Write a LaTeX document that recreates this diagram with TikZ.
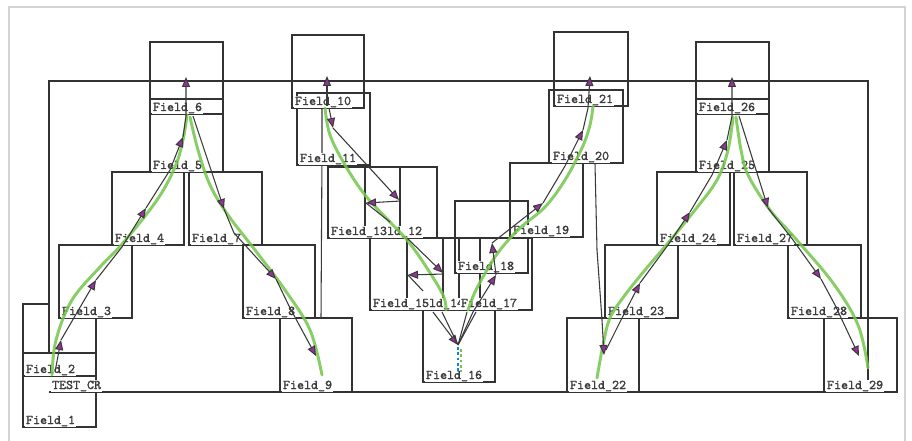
\documentclass[tikz,border=0pt]{standalone}
\usepackage{fontspec}
\newfontfamily\labfont{lmmono10-regular}[Extension=.otf, FakeBold=1.6]
\usetikzlibrary{arrows.meta}
\definecolor{boxc}{HTML}{333333}
\definecolor{conc}{HTML}{3a3a3a}
\definecolor{arrc}{RGB}{150,50,160}
\definecolor{grc}{RGB}{115,198,75}
\definecolor{txtc}{HTML}{3c3c3c}
\definecolor{framec}{HTML}{d4d4d4}
\tikzset{
  fbox/.style={draw=boxc, line width=1pt},
  flab/.style={font=\labfont\fontsize{10}{11}\selectfont, text=txtc, anchor=base west, inner sep=0.6pt, fill=white},
  conn/.style={draw=conc, line width=0.8pt},
  tip/.style={-{Triangle[length=7.5pt,width=6pt,fill=arrc]}},
  gline/.style={draw=grc, line width=2.2pt, line cap=round, opacity=0.85},
}
\begin{document}
\begin{tikzpicture}[x=0.75pt,y=-0.75pt]
\useasboundingbox (0,0) rectangle (912,441);
\fill[white] (0,0) rectangle (912,441);
\draw[framec, line width=0.8pt] (9,441) -- (9,7) -- (905,7) -- (905,441);

% boxes
\foreach \a/\b/\c/\d in {
  150/42/223/114, 150/99/223/172, 112/172/184/245, 189/172/262/245,
  59/245/132/318, 243/245/315/318, 23/353/96/427,
  280/318/352/392,
  292/35/364/108, 297/93/370/165, 328/167/400/238, 365/167/437/238,
  370/238/443/310, 407/238/480/310, 459/238/532/310, 455/201/528/273,
  423/310/495/382, 510/163/583/237, 549/90/623/163, 554/32/628/106,
  696/42/769/114, 696/99/769/172, 657/172/730/245, 734/172/807/245,
  605/245/678/318, 788/245/861/318, 567/318/639/392, 824/318/897/392}
  \draw[fbox] (\a,\b) rectangle (\c,\d);
% TEST_CR frame and Field_2 outline (partly hidden in the reference)
\draw[fbox] (49,353) -- (49,81) -- (868,81) -- (868,392) -- (49,392);
\draw[fbox] (49,304) -- (23,304) -- (23,376) -- (96,376) -- (96,318);
\draw[conn] (322,108) -- (322,150) -- (321,318);

% labels
\node[flab] (f6) at (152,111) {Field\_6};
\node[flab] (f5) at (152,169) {Field\_5};
\node[flab] (f4) at (114,242) {Field\_4};
\node[flab] (f7) at (191,242) {Field\_7};
\node[flab] (f3) at (61,315) {Field\_3};
\node[flab] (f8) at (245,315) {Field\_8};
\node[flab] (f2) at (25,373) {Field\_2};
\node[flab] (f1) at (25,424) {Field\_1};
\node[flab] (tc) at (51,389) {TEST\_CR};
\node[flab] (f9) at (282,389) {Field\_9};
\node[flab] (f10) at (294,105) {Field\_10};
\node[flab] (f11) at (299,162) {Field\_11};
\node[flab] (f12) at (365,235) {Field\_12};
\node[flab] (f13) at (330,235) {Field\_13};
\node[flab] (f14) at (407,307) {Field\_14};
\node[flab] (f15) at (372,307) {Field\_15};
\node[flab] (f17) at (460,307) {Field\_17};
\node[flab] (f18) at (457,270) {Field\_18};
\node[flab] (f16) at (425,379) {Field\_16};
\node[flab] (f19) at (512,234) {Field\_19};
\node[flab] (f20) at (552,160) {Field\_20};
\node[flab] (f21) at (556,103) {Field\_21};
\node[flab] (f26) at (698,111) {Field\_26};
\node[flab] (f25) at (698,169) {Field\_25};
\node[flab] (f24) at (659,242) {Field\_24};
\node[flab] (f27) at (736,242) {Field\_27};
\node[flab] (f23) at (607,315) {Field\_23};
\node[flab] (f28) at (790,315) {Field\_28};
\node[flab] (f22) at (569,389) {Field\_22};
\node[flab] (f29) at (826,389) {Field\_29};

% green curves
\draw[gline] plot[smooth, tension=0.6] coordinates {(52,375) (56,340) (72,300) (100,267) (123,243) (157,200) (175,167) (183,140) (187,115)};
\draw[gline] plot[smooth, tension=0.6] coordinates {(190,117) (198,150) (210,185) (228,215) (255,250) (285,290) (310,330) (322,375)};
\draw[gline] plot[smooth, tension=0.6] coordinates {(325,108) (330,135) (345,165) (365,195) (390,222) (407,240) (425,265) (443,295) (446,310)};
\draw[gline] plot[smooth, tension=0.6] coordinates {(468,310) (475,292) (487,270) (500,250) (520,228) (545,207) (565,180) (582,148) (590,125) (593,106)};
\draw[gline] plot[smooth, tension=0.6] coordinates {(597,378) (603,345) (610,318) (625,295) (645,270) (668,243) (695,210) (717,180) (728,150) (733,117)};
\draw[gline] plot[smooth, tension=0.6] coordinates {(736,117) (741,150) (748,175) (770,210) (795,238) (833,283) (858,325) (868,368)};
\draw[cyan!70!blue, line width=1.6pt, dash pattern=on 2pt off 2pt] (458,347) -- (458,372);
\draw[grc, line width=1.2pt, dash pattern=on 2pt off 2pt] (461,349) -- (461,372);

% connector points
\coordinate (u0) at (55,372); \coordinate (u1) at (61,340); \coordinate (u1b) at (75,316);
\coordinate (u2) at (96,280); \coordinate (u2b) at (122,247); \coordinate (u3) at (146,208);
\coordinate (u3b) at (170,170); \coordinate (u4) at (183,137); \coordinate (u4b) at (186,116);
\coordinate (u5) at (186,77);
\coordinate (d0) at (193,116); \coordinate (d1) at (224,209); \coordinate (d1b) at (234,233);
\coordinate (d2) at (276,279); \coordinate (d2b) at (290,308); \coordinate (d3) at (316,356);
\coordinate (m0) at (327,106); \coordinate (m1) at (327,76);
\coordinate (m2) at (329,108); \coordinate (m3) at (333,128); \coordinate (m4) at (399,200);
\coordinate (m5) at (401,201); \coordinate (m6) at (366,203); \coordinate (m7) at (390,222);
\coordinate (n0) at (407,238); \coordinate (n1) at (443,273); \coordinate (n2) at (444,274);
\coordinate (n3) at (408,275); \coordinate (n4) at (423,291);
\coordinate (k0) at (433,312); \coordinate (k1) at (442,312); \coordinate (k2) at (467,312);
\coordinate (k3) at (476,312); \coordinate (kt) at (458,345);
\coordinate (q1) at (473,312); \coordinate (q2) at (496,275); \coordinate (q3) at (492,243);
\coordinate (q4) at (543,203); \coordinate (q4b) at (565,166); \coordinate (q5) at (583,130);
\coordinate (q5b) at (588,108); \coordinate (q6) at (590,76);
\coordinate (r0) at (595,164); \coordinate (r1) at (597,250); \coordinate (r2) at (602,320);
\coordinate (rt) at (604,355);
\coordinate (v0) at (606,350); \coordinate (v0b) at (622,318); \coordinate (v1) at (640,283);
\coordinate (v1b) at (668,245); \coordinate (v2) at (690,212); \coordinate (v2b) at (712,175);
\coordinate (v3) at (727,140); \coordinate (v3b) at (732,116); \coordinate (v4) at (732,77);
\coordinate (w0) at (739,116); \coordinate (w1) at (768,208); \coordinate (w1b) at (793,240);
\coordinate (w2) at (821,279); \coordinate (w2b) at (835,305); \coordinate (w3) at (859,356);

% dark connectors with arrows
\draw[conn,tip] (u0) -- (u1);
\draw[conn,tip] (u1) -- (u1b) -- (u2);
\draw[conn,tip] (u2) -- (u2b) -- (u3);
\draw[conn,tip] (u3) -- (u3b) -- (u4);
\draw[conn,tip] (u4) -- (u4b) -- (u5);
\draw[conn,tip] (d0) -- (d1);
\draw[conn,tip] (d1) -- (d1b) -- (d2);
\draw[conn,tip] (d2) -- (d2b) -- (d3);
\draw[conn,tip] (m0) -- (m1);
\draw[conn,tip] (m2) -- (m3);
\draw[conn,tip] (m3) -- (m4);
\draw[conn,tip] (m5) -- (m6);
\draw[conn] (m6) -- (m7);
\draw[conn,tip] (n0) -- (n1);
\draw[conn,tip] (n2) -- (n3);
\draw[conn] (n3) -- (n4);
\draw[conn,tip] (k0) -- (kt);
\draw[conn] (k1) -- (kt);
\draw[conn] (k2) -- (kt);
\draw[conn] (k3) -- (kt);
\draw[conn,tip] (kt) -- (q1) -- (q2);
\draw[conn,tip] (q2) -- (q3);
\draw[conn,tip] (q3) -- (q4);
\draw[conn,tip] (q4) -- (q4b) -- (q5);
\draw[conn,tip] (q5) -- (q5b) -- (q6);
\draw[conn,tip] (r0) -- (r1) -- (r2) -- (rt);
\draw[conn,tip] (v0) -- (v0b) -- (v1);
\draw[conn,tip] (v1) -- (v1b) -- (v2);
\draw[conn,tip] (v2) -- (v2b) -- (v3);
\draw[conn,tip] (v3) -- (v3b) -- (v4);
\draw[conn,tip] (w0) -- (w1);
\draw[conn,tip] (w1) -- (w1b) -- (w2);
\draw[conn,tip] (w2) -- (w2b) -- (w3);
\end{tikzpicture}
\end{document}
